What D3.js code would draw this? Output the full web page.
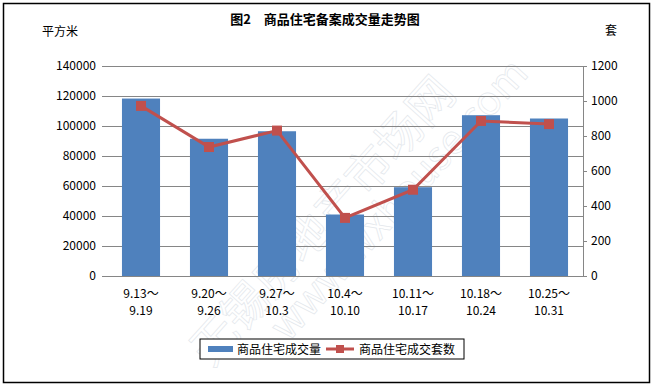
<!DOCTYPE html>
<html>
<head>
<meta charset="utf-8">
<script src="https://cdn.jsdelivr.net/npm/d3@7"></script>
<style>
  body { margin: 0; background: #fff; }
  text { font-family: "Noto Sans CJK SC", "DejaVu Sans", sans-serif; }
</style>
</head>
<body>
<svg id="chart"></svg>
<script>
const categories = [['9.13～', '9.19'], ['9.20～', '9.26'], ['9.27～', '10.3'], ['10.4～', '10.10'],
  ['10.11～', '10.17'], ['10.18～', '10.24'], ['10.25～', '10.31']];
const areaValues = [118300, 91500, 96500, 41000, 59200, 107200, 105000]; // 平方米
const unitValues = [972, 737, 831, 332, 493, 886, 868]; // 套
const leftTicks = [0, 20000, 40000, 60000, 80000, 100000, 120000, 140000];
const rightTicks = [0, 200, 400, 600, 800, 1000, 1200];

const W = 653, H = 387;
const margin = { top: 66, right: 70, bottom: 111, left: 107 };
const width = W - margin.left - margin.right;
const height = H - margin.top - margin.bottom;

const svg = d3.select('#chart')
    .attr('width', W)
    .attr('height', H);

// outer frame
svg.append('rect')
    .attr('x', 3.5).attr('y', 3.5)
    .attr('width', W - 7).attr('height', H - 8)
    .attr('fill', '#fff')
    .attr('stroke', '#000')
    .attr('stroke-width', 1.5);

const x = d3.scaleBand()
    .domain(d3.range(categories.length))
    .range([0, width])
    .paddingInner(0.44)
    .paddingOuter(0.22);

const yL = d3.scaleLinear().domain([0, 140000]).range([height, 0]);
const yR = d3.scaleLinear().domain([0, 1200]).range([height, 0]);

// faint watermark behind the chart
const wm = svg.append('g')
    .attr('transform', 'translate(300,300) rotate(-48)')
    .attr('fill', 'none')
    .attr('stroke', '#e3e7ec')
    .attr('stroke-width', 0.7);
wm.append('text').attr('x', -110).attr('y', -20).attr('font-size', 46).text('无锡房地产市场网');
wm.append('text').attr('x', -40).attr('y', 20).attr('font-size', 40).attr('font-family', 'Arial, sans-serif').text('www.wxhouse.com');

const chart = svg.append('g')
    .attr('transform', `translate(${margin.left},${margin.top})`);

// gridlines
chart.append('g')
    .selectAll('line')
    .data(leftTicks.slice(1))
  .enter().append('line')
    .attr('x1', 0).attr('x2', width)
    .attr('y1', d => Math.round(yL(d)) + 0.5)
    .attr('y2', d => Math.round(yL(d)) + 0.5)
    .attr('stroke', '#868686');

// bars
chart.selectAll('.bar')
    .data(areaValues)
  .enter().append('rect')
    .attr('class', 'bar')
    .attr('x', (d, i) => x(i))
    .attr('y', d => yL(d))
    .attr('width', x.bandwidth())
    .attr('height', d => height - yL(d))
    .attr('fill', '#4F81BD');

// left axis
const leftAxis = chart.append('g')
    .call(d3.axisLeft(yL).tickValues(leftTicks).tickSize(5).tickPadding(6).tickFormat(d3.format('d')));
leftAxis.select('.domain').remove();
leftAxis.selectAll('.tick line').attr('stroke', '#868686');
leftAxis.selectAll('text').attr('font-size', 12).attr('fill', '#000');

// right axis
const rightAxis = chart.append('g')
    .attr('transform', `translate(${width},0)`)
    .call(d3.axisRight(yR).tickValues(rightTicks).tickSize(4).tickPadding(4).tickFormat(d3.format('d')));
rightAxis.select('.domain').attr('stroke', '#868686');
rightAxis.selectAll('.tick line').attr('stroke', '#868686');
rightAxis.selectAll('text').attr('font-size', 12).attr('fill', '#000');

// baseline
chart.append('line')
    .attr('x1', 0).attr('x2', width)
    .attr('y1', height + 0.5).attr('y2', height + 0.5)
    .attr('stroke', '#868686');

// x labels
const xl = chart.append('g')
    .selectAll('text')
    .data(categories)
  .enter().append('text')
    .attr('x', (d, i) => x(i) + x.bandwidth() / 2)
    .attr('y', height + 22)
    .attr('text-anchor', 'middle')
    .attr('font-size', 12);
xl.append('tspan').attr('x', (d, i) => x(i) + x.bandwidth() / 2).text(d => d[0]);
xl.append('tspan').attr('x', (d, i) => x(i) + x.bandwidth() / 2).attr('dy', 17).text(d => d[1]);

// line series
const cx = i => x(i) + x.bandwidth() / 2;
chart.append('path')
    .datum(unitValues)
    .attr('fill', 'none')
    .attr('stroke', '#C0504D')
    .attr('stroke-width', 3)
    .attr('d', d3.line().x((d, i) => cx(i)).y(d => yR(d)));

chart.selectAll('.pt')
    .data(unitValues)
  .enter().append('rect')
    .attr('class', 'pt')
    .attr('x', (d, i) => cx(i) - 5)
    .attr('y', d => yR(d) - 5)
    .attr('width', 10).attr('height', 10)
    .attr('fill', '#C0504D');

// titles
svg.append('text')
    .attr('x', 325).attr('y', 24)
    .attr('text-anchor', 'middle')
    .attr('font-size', 13)
    .attr('font-weight', 'bold')
    .text('图2　商品住宅备案成交量走势图');

svg.append('text')
    .attr('x', 60).attr('y', 36)
    .attr('text-anchor', 'middle')
    .attr('font-size', 12)
    .text('平方米');

svg.append('text')
    .attr('x', 611).attr('y', 35)
    .attr('text-anchor', 'middle')
    .attr('font-size', 12)
    .text('套');

// legend
const lg = svg.append('g').attr('transform', 'translate(200,339)');
lg.append('rect')
    .attr('width', 264).attr('height', 20)
    .attr('fill', '#fff')
    .attr('stroke', '#000');
lg.append('rect')
    .attr('x', 8).attr('y', 7).attr('width', 25).attr('height', 6)
    .attr('fill', '#4F81BD');
lg.append('text')
    .attr('x', 37).attr('y', 15)
    .attr('font-size', 12)
    .text('商品住宅成交量');
lg.append('line')
    .attr('x1', 126).attr('x2', 154).attr('y1', 10).attr('y2', 10)
    .attr('stroke', '#C0504D').attr('stroke-width', 3);
lg.append('rect')
    .attr('x', 136).attr('y', 6).attr('width', 8).attr('height', 8)
    .attr('fill', '#C0504D');
lg.append('text')
    .attr('x', 159).attr('y', 15)
    .attr('font-size', 12)
    .text('商品住宅成交套数');
</script>
</body>
</html>
